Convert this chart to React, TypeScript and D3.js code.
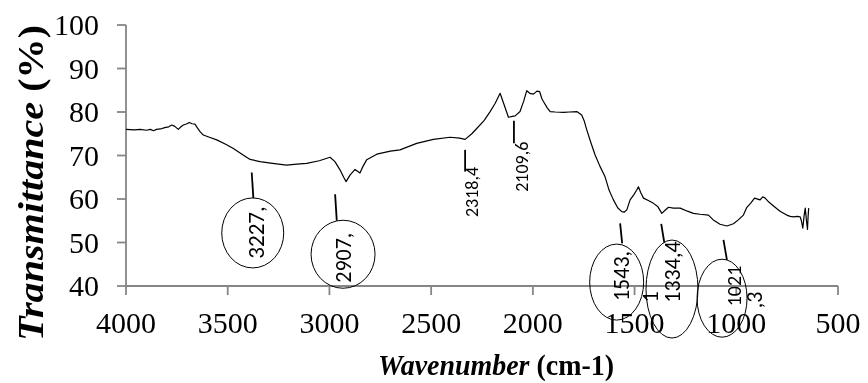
import React from "react";
import * as d3 from "d3";

const wavenumbers = [
  4000, 3960, 3930, 3900, 3880, 3865, 3850, 3830, 3810, 3790, 3775, 3760, 3743, 3730, 3718, 3700, 3689, 3675, 3661, 3650,
  3636, 3620, 3590, 3554, 3510, 3472, 3430, 3390, 3341, 3280, 3210, 3160, 3112, 3050, 2997, 2973, 2948, 2930, 2918, 2899,
  2874, 2862, 2850, 2835, 2817, 2767, 2700, 2653, 2571, 2489, 2407, 2360, 2333, 2300, 2276, 2240, 2210, 2185, 2161, 2140,
  2120, 2100, 2087, 2063, 2045, 2030, 2015, 1997, 1980, 1967, 1955, 1948, 1930, 1915, 1890, 1849, 1820, 1784, 1760, 1748,
  1735, 1715, 1694, 1670, 1645, 1625, 1604, 1583, 1563, 1550, 1538, 1522, 1505, 1490, 1481, 1470, 1456, 1430, 1407, 1385,
  1366, 1350, 1333, 1310, 1276, 1240, 1211, 1178, 1137, 1113, 1080, 1046, 1014, 990, 965, 949, 930, 910, 883, 870,
  858, 840, 817, 785, 752, 735, 719, 700, 686, 680, 673, 667, 661, 655, 650, 647, 644,
];
const transmittance = [
  76.0, 75.9, 76.0, 75.8, 76.0, 75.7, 76.0, 76.1, 76.4, 76.6, 77.0, 76.7, 76.0, 76.6, 77.0, 77.3, 77.6, 77.3, 77.2, 76.4,
  75.5, 74.7, 74.2, 73.6, 72.6, 71.6, 70.3, 69.1, 68.6, 68.2, 67.8, 68.0, 68.2, 68.8, 69.6, 68.6, 66.7, 65.0, 64.0, 65.5,
  66.8, 66.4, 66.0, 67.5, 69.0, 70.3, 71.0, 71.3, 72.8, 73.7, 74.2, 74.0, 73.7, 75.0, 76.2, 78.0, 80.1, 82.0, 84.3, 81.5,
  78.8, 79.0, 79.1, 80.1, 82.5, 84.9, 84.3, 84.1, 84.8, 84.7, 83.0, 82.4, 81.0, 80.1, 80.0, 79.9, 80.0, 80.1, 79.3, 78.0,
  75.9, 73.0, 70.1, 67.5, 65.1, 62.0, 59.8, 58.0, 57.1, 57.0, 57.5, 59.8, 60.9, 62.0, 62.8, 61.5, 60.2, 59.6, 59.0, 58.2,
  56.7, 57.4, 58.1, 57.9, 57.9, 57.2, 56.7, 56.5, 56.3, 55.2, 54.2, 53.8, 54.3, 55.2, 56.3, 58.0, 59.0, 60.2, 59.8, 60.5,
  60.2, 59.3, 58.4, 57.2, 56.3, 56.0, 55.9, 56.0, 55.9, 55.0, 53.3, 56.0, 57.9, 55.0, 53.0, 56.0, 57.9,
];

const xTicks = [4000, 3500, 3000, 2500, 2000, 1500, 1000, 500];
const yTicks = [40, 50, 60, 70, 80, 90, 100];

// Peak annotations: label, leader line ends (wavenumber, %T), text centre (wavenumber, %T), optional ellipse centre
const annLabels = ["3227,", "2907,", "2318,4", "2109,6", "1543,", "1334,4", "1021"];
const annLeaderW = [[3382, 3374], [2972, 2964], [2333, 2333], [2093, 2093], [1571, 1561], [1369, 1354], [1063, 1046]];
const annLeaderV = [[66.1, 60.2], [61.1, 55.0], [71.3, 66.3], [78.0, 72.8], [54.4, 49.8], [54.3, 50.0], [50.6, 46.0]];
const annTextW = [3359, 2928, 2300, 2055, 1561, 1311, 1010];
const annTextV = [52.3, 46.5, 61.6, 67.4, 42.3, 43.2, 40.0];
const annCircled = [true, true, false, false, true, true, true];
const annEllipseW = [3377, 2933, 0, 0, 1588, 1316, 1070];
const annEllipseV = [52.2, 47.3, 0, 0, 40.9, 39.3, 37.2];
const overflowLabels = ["1", ",3"];
const overflowW = [1419, 908];
const overflowV = [37.5, 36.8];

const W = 868;
const H = 383;

const css = `
.serif { font-family: "Liberation Serif", "Times New Roman", Tinos, serif; }
.calib { font-family: Carlito, Calibri, Lato, sans-serif; }
`;

export default function App() {
  const x = d3.scaleLinear().domain([4000, 500]).range([126, 838]);
  const y = d3.scaleLinear().domain([40, 100]).range([286, 25]);
  const pts = wavenumbers.map((w, i) => [w, transmittance[i]] as [number, number]);
  const line = d3
    .line<[number, number]>()
    .x((d) => x(d[0]))
    .y((d) => y(d[1]));

  const axisColor = "#868686";
  const ellRx = [31, 32, 0, 0, 27, 26, 25];
  const ellRy = [35, 34, 0, 0, 38, 49, 39];
  const annFont = [23, 22, 18, 18, 22, 22, 20];

  return (
    <div style={{ position: "fixed", left: 0, top: 0 }}>
      <svg width={W} height={H}>
        <style>{css}</style>
        {/* axes */}
        <line x1={126} x2={126} y1={y(100)} y2={y(40)} stroke={axisColor} strokeWidth={1.8} />
        <line x1={x(4000)} x2={x(500)} y1={286} y2={286} stroke={axisColor} strokeWidth={1.8} />
        {yTicks.map((t) => (
          <g key={"yt" + t}>
            <line x1={117} x2={126} y1={y(t)} y2={y(t)} stroke={axisColor} strokeWidth={1.8} />
            <text className="serif" x={99} y={y(t) + 10} textAnchor="end" fontFamily="Liberation Serif" fontSize={30}>
              {t}
            </text>
          </g>
        ))}
        {xTicks.map((t) => (
          <g key={"xt" + t}>
            <line x1={x(t)} x2={x(t)} y1={286} y2={295} stroke={axisColor} strokeWidth={1.8} />
            <text className="serif" x={x(t)} y={333} textAnchor="middle" fontFamily="Liberation Serif" fontSize={30}>
              {t}
            </text>
          </g>
        ))}

        {/* spectrum */}
        <path d={line(pts) || ""} fill="none" stroke="#000" strokeWidth={1.2} strokeLinejoin="round" />

        {/* annotations */}
        {annLabels.map((lab, i) => (
          <g key={"ann" + i}>
            <line
              x1={x(annLeaderW[i][0])}
              y1={y(annLeaderV[i][0])}
              x2={x(annLeaderW[i][1])}
              y2={y(annLeaderV[i][1])}
              stroke="#000"
              strokeWidth={1.8}
            />
            {annCircled[i] && (
              <ellipse
                cx={x(annEllipseW[i])}
                cy={y(annEllipseV[i])}
                rx={ellRx[i]}
                ry={ellRy[i]}
                fill="none"
                stroke="#000"
                strokeWidth={1}
              />
            )}
            <text
              className="calib"
              transform={`translate(${x(annTextW[i])},${y(annTextV[i])}) rotate(-90)`}
              textAnchor="middle"
              dy="0.33em"
              fontFamily="Carlito"
              fontSize={annFont[i]}
            >
              {lab}
            </text>
          </g>
        ))}
        {overflowLabels.map((lab, i) => (
          <text
            key={"ov" + i}
            className="calib"
            transform={`translate(${x(overflowW[i])},${y(overflowV[i])}) rotate(-90)`}
            textAnchor="middle"
            dy="0.33em"
            fontFamily="Carlito"
            fontSize={22}
          >
            {lab}
          </text>
        ))}

        {/* axis titles */}
        <text
          className="serif"
          x={496}
          y={375}
          textAnchor="middle"
          fontFamily="Liberation Serif"
          fontSize={29}
          fontWeight="bold"
          textLength={236}
          lengthAdjust="spacingAndGlyphs"
        >
          <tspan fontStyle="italic">Wavenumber</tspan>
          <tspan> (cm-1)</tspan>
        </text>
        <text
          className="serif"
          transform="translate(43,183) rotate(-90)"
          textAnchor="middle"
          fontFamily="Liberation Serif"
          fontSize={35}
          fontWeight="bold"
          textLength={316}
          lengthAdjust="spacingAndGlyphs"
        >
          <tspan fontStyle="italic">Transmittance</tspan>
          <tspan> (%)</tspan>
        </text>
      </svg>
    </div>
  );
}
